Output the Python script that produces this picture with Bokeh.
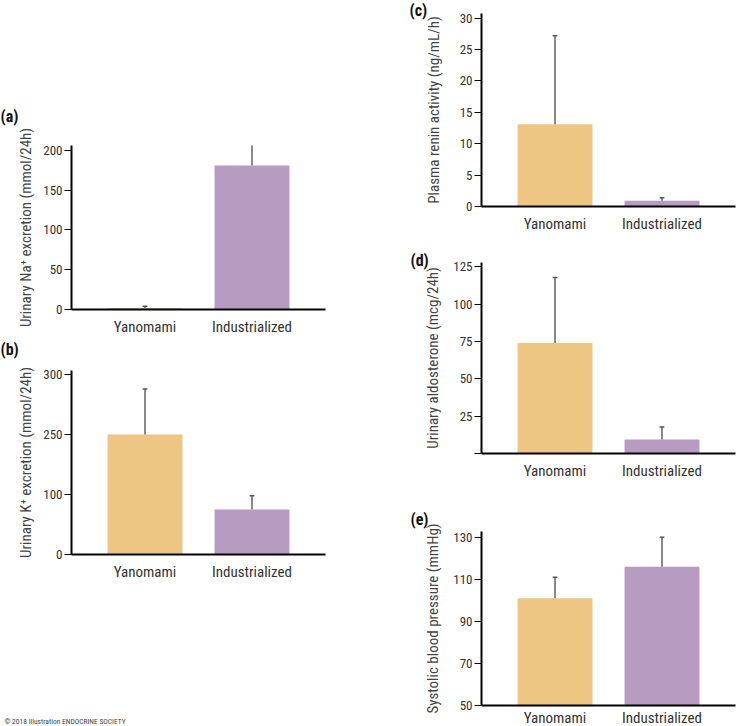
import numpy as np
from bokeh.plotting import figure
from bokeh.layouts import row, column
from bokeh.models import Range1d, FixedTicker, Label, ColumnDataSource
from bokeh.embed import file_html
from bokeh.resources import INLINE

# ---------------- data ----------------
groups = ["Yanomami", "Industrialized"]
bar_colors = ["#EDC683", "#B89BC1"]

na_mean = [2, 181]
na_err = [2, 34]
na_ticks = [0, 50, 100, 150, 200]

k_mean = [250, 75]
k_err = [38, 23]
k_ticks = [0, 100, 250, 300]          # axis of the original is not linear

renin_mean = [13.1, 0.9]
renin_err = [14.1, 0.5]
renin_ticks = [0, 5, 10, 15, 20, 25, 30]

aldo_mean = [74, 9.3]
aldo_err = [44, 8.4]
aldo_ticks = [0, 25, 50, 75, 100, 125]

sbp_mean = [101, 116]
sbp_err = [10, 14]
sbp_ticks = [50, 70, 90, 110, 130]

FONT = "Roboto Condensed, DejaVu Sans Condensed, Liberation Sans, sans-serif"
x_pos = [0.5, 1.5]
X0 = -0.187
X1 = 2.187


def panel(tag, ylabel, means, errs, ticks, ystart, yend, width, height,
          mb_left, mb_right, mb_top, mb_bottom, tag_off, tag_place="above",
          title_standoff=5, tick_pos=None, hide_zero=False, xlab_standoff=8):
    means = np.asarray(means, dtype=float)
    errs = np.asarray(errs, dtype=float)
    tops = means
    etops = means + errs
    ticks_at = list(ticks)
    if tick_pos is not None:
        tops = np.interp(means, ticks, tick_pos)
        etops = np.interp(means + errs, ticks, tick_pos)
        ticks_at = list(tick_pos)
    p = figure(width=width, height=height, output_backend="svg", toolbar_location=None,
               x_range=Range1d(X0, X1), y_range=Range1d(ystart, yend),
               min_border_left=mb_left, min_border_right=mb_right,
               min_border_top=mb_top, min_border_bottom=mb_bottom)
    p.outline_line_color = None
    p.xgrid.visible = False
    p.ygrid.visible = False
    src = ColumnDataSource(dict(x=x_pos, top=tops, etop=etops, color=bar_colors,
                                cl=[x - 0.022 for x in x_pos], cr=[x + 0.022 for x in x_pos]))
    p.vbar(x="x", top="top", bottom=ystart, width=0.70, fill_color="color",
           line_color=None, source=src)
    p.segment(x0="x", y0="top", x1="x", y1="etop", line_color="#8a8a8a",
              line_width=2, source=src)
    p.segment(x0="cl", y0="etop", x1="cr", y1="etop", line_color="#555555",
              line_width=1.5, source=src)

    xa = p.xaxis[0]
    xa.ticker = FixedTicker(ticks=x_pos)
    xa.major_label_overrides = {x_pos[0]: groups[0], x_pos[1]: groups[1]}
    xa.major_tick_out = 0
    xa.major_tick_in = 0
    xa.minor_tick_out = 0
    xa.minor_tick_in = 0
    xa.axis_line_width = 2
    xa.axis_line_color = "black"
    xa.major_label_text_font = FONT
    xa.major_label_text_font_size = "15px"
    xa.major_label_text_color = "#333333"
    xa.major_label_standoff = xlab_standoff

    ya = p.yaxis[0]
    ya.ticker = FixedTicker(ticks=ticks_at)
    overrides = {}
    if tick_pos is not None:
        overrides = {tp: str(t) for tp, t in zip(tick_pos, ticks)}
    if hide_zero:
        overrides[0] = ""
    ya.major_label_overrides = overrides
    ya.major_tick_out = 7
    ya.major_tick_in = 0
    ya.minor_tick_out = 0
    ya.minor_tick_in = 0
    ya.major_tick_line_width = 1
    ya.major_tick_line_color = "black"
    ya.axis_line_width = 2
    ya.axis_line_color = "black"
    ya.major_label_text_font = FONT
    ya.major_label_text_font_size = "13px"
    ya.major_label_text_color = "#333333"
    ya.major_label_standoff = 2
    ya.axis_label = ylabel
    ya.axis_label_text_font = FONT
    ya.axis_label_text_font_size = "15px"
    ya.axis_label_text_font_style = "normal"
    ya.axis_label_text_color = "#444444"
    ya.axis_label_standoff = title_standoff

    # panel tag, placed relative to the frame's top-left corner (in a side panel, not clipped)
    p.add_layout(Label(x=X0, y=yend, x_offset=-tag_off[0], y_offset=tag_off[1],
                       text=tag, text_font=FONT, text_font_style="bold",
                       text_font_size="16px", text_baseline="top", text_color="#111111"),
                 tag_place)
    return p


# left column (x 0..400), right column (x 400..736)
pa = panel("(a)", "Urinary Na\u207a excretion (mmol/24h)", na_mean, na_err, na_ticks,
           0, 206.2, 400, 338, 71, 75, 145, 27, (71, 39))
pb = panel("(b)", "Urinary K\u207a excretion (mmol/24h)", k_mean, k_err, k_ticks,
           0, 3.067, 400, 388, 71, 75, 32, 172, (71, 31), tick_pos=[0, 1, 2, 3])
pb.add_layout(Label(x=X0, y=0, x_offset=-67, y_offset=-167,
                    text="\u00a9 2018 Illustration ENDOCRINE SOCIETY", text_font=FONT,
                    text_font_size="7.5px", text_color="#444444", text_baseline="middle"),
              "below")

pc = panel("(c)", "Plasma renin activity (ng/mL/h)", renin_mean, renin_err, renin_ticks,
           0, 30.73, 336, 240, 81, 1, 13, 34, (72, 13), tag_place="left", title_standoff=14)
pd = panel("(d)", "Urinary aldosterone (mcg/24h)", aldo_mean, aldo_err, aldo_ticks,
           0, 128.0, 336, 242, 81, 1, 22, 28, (71, 12), title_standoff=8, hide_zero=True)
pe = panel("(e)", "Systolic blood pressure (mmHg)", sbp_mean, sbp_err, sbp_ticks,
           50, 132.7, 336, 250, 81, 1, 49, 27, (71, 22), title_standoff=8, xlab_standoff=3)

layout = row(column(pa, pb), column(pc, pd, pe))
open("out.html", "w").write(file_html(layout, INLINE))
